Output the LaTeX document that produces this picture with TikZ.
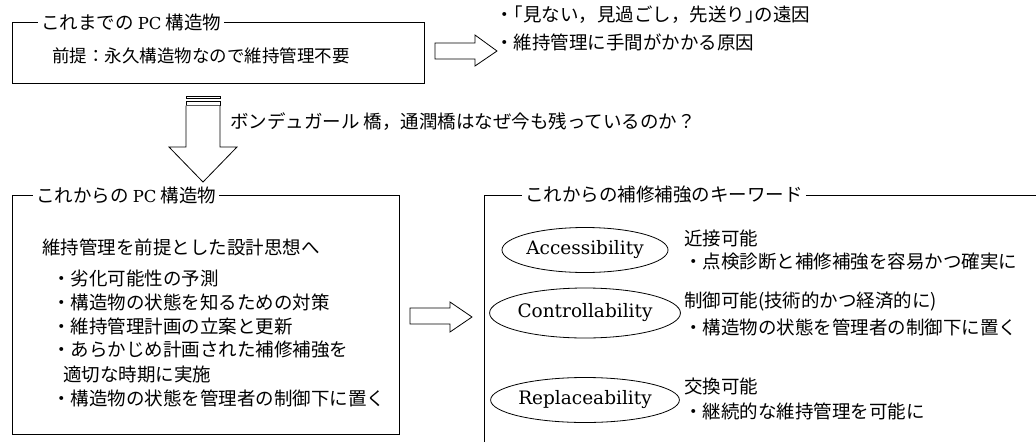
\documentclass[tikz,border=0pt]{standalone}
\usepackage{fontspec}
\newfontfamily\cjk{Noto Sans CJK JP}
\newfontfamily\lat{DejaVu Serif}
\newcommand\pcw{{\lat\fontsize{16.5}{20}\selectfont PC}}
\usetikzlibrary{shapes.geometric}
\tikzset{
  frame/.style={line width=0.8pt},
  jt/.style={font=\cjk\fontsize{18.5}{22}\selectfont, inner sep=0pt, anchor=west},
  ttl/.style={jt, inner xsep=3pt},
  kw/.style={ellipse, draw, line width=0.8pt, minimum width=156pt, minimum height=45pt, inner sep=0pt, font=\lat\fontsize{18.5}{22}\selectfont},
  fat/.style={draw, line width=0.8pt, fill=white, line join=miter},
}
\begin{document}
\begin{tikzpicture}[x=1pt,y=-1pt]
\useasboundingbox (0,0) rectangle (1036,442);
% box 1
\node[ttl] (t1) at (38,22) {これまでの \pcw{} 構造物};
\draw[frame] (t1.east) -- (424,22) -- (424,83) -- (12,83) -- (12,22) -- (t1.west);
\node[jt, font=\cjk\fontsize{17.5}{21}\selectfont] (b1) at (52,56) {前提：永久構造物なので維持管理不要};
% arrow 1
\draw[fat] (435,43) -- (475,43) -- (475,35) -- (497,51) -- (475,66) -- (475,59) -- (435,59) -- cycle;
\node[jt] (r1) at (495,15) {・\kern-9pt「見ない，見過ごし，先送り」\kern-9pt の遠因};
\node[jt] (r2) at (495,42) {・維持管理に手間がかかる原因};
% down arrow
\draw[fat] (186,96) rectangle (220,98.5);
\draw[fat] (186,101) rectangle (220,105.5);
\draw[fat] (186,105.5) -- (186,147) -- (169,147) -- (203,182) -- (237,147) -- (220,147) -- (220,105.5);
\node[jt] (q) at (230,122) {ボンデュガール 橋，通潤橋はなぜ今も残っているのか？};
% box 2
\node[ttl] (t2) at (33,195) {これからの \pcw{} 構造物};
\draw[frame] (t2.east) -- (399,195) -- (399,434) -- (12,434) -- (12,195) -- (t2.west);
\node[jt] (l0) at (42,247) {維持管理を前提とした設計思想へ};
\node[jt] (l1) at (52,278) {・劣化可能性の予測};
\node[jt] (l2) at (52,302) {・構造物の状態を知るための対策};
\node[jt] (l3) at (52,326) {・維持管理計画の立案と更新};
\node[jt] (l4) at (52,350) {・あらかじめ計画された補修補強を};
\node[jt] (l5) at (63,374) {適切な時期に実施};
\node[jt] (l6) at (52,398) {・構造物の状態を管理者の制御下に置く};
% arrow 2
\draw[fat] (410,308) -- (450,308) -- (450,302) -- (472,317) -- (450,332) -- (450,324) -- (410,324) -- cycle;
% box 3
\node[ttl] (t3) at (522,195) {これからの補修補強のキーワード};
\draw[frame] (t3.east) -- (1036,195);
\draw[frame] (484,442) -- (484,195) -- (t3.west);
\node[kw] (e1) at (585,250) {Accessibility};
\node[kw, minimum height=50pt] (e2) at (585,313) {Controllability};
\node[kw] (e3) at (585,400) {Replaceability};
\node[jt] (a1) at (684,238) {近接可能};
\node[jt] (a2) at (684,262) {・点検診断と補修補強を容易かつ確実に};
\node[jt] (c1) at (684,302) {制御可能(技術的かつ経済的に)};
\node[jt] (c2) at (684,327) {・構造物の状態を管理者の制御下に置く};
\node[jt] (p1) at (684,386) {交換可能};
\node[jt] (p2) at (684,411) {・継続的な維持管理を可能に};
\end{tikzpicture}
\end{document}
